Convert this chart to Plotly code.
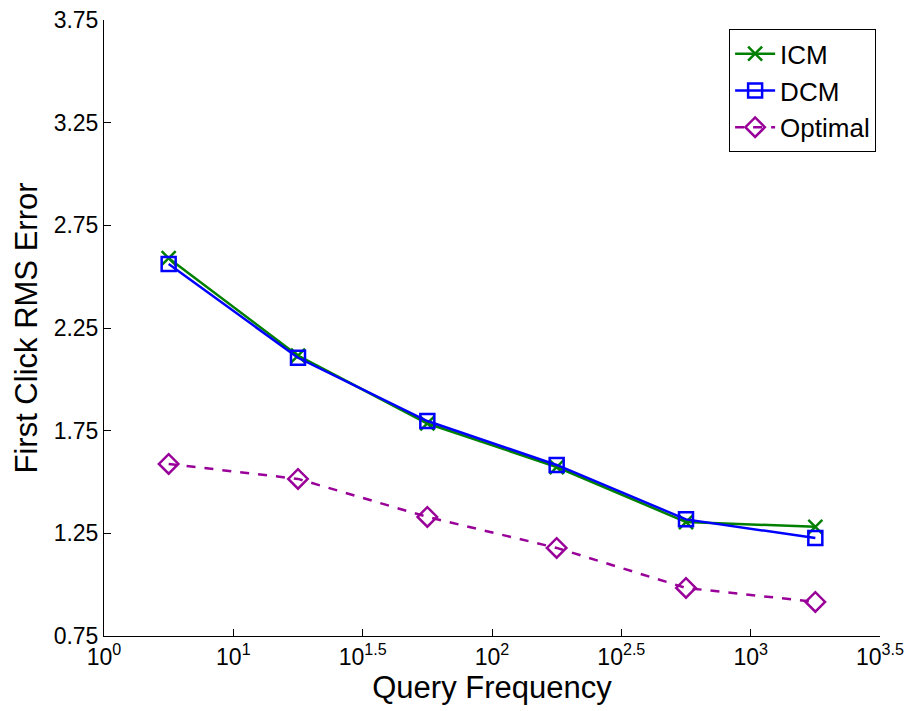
import plotly.graph_objects as go

query_freq = [10**0.75, 10**1.25, 10**1.75, 10**2.25, 10**2.75, 10**3.25]
icm = [2.59, 2.115, 1.785, 1.573, 1.305, 1.282]
dcm = [2.562, 2.105, 1.797, 1.583, 1.318, 1.227]
optimal = [1.588, 1.515, 1.33, 1.179, 0.984, 0.916]

x_tickvals = [10**0.5, 10**1, 10**1.5, 10**2, 10**2.5, 10**3, 10**3.5]
x_ticktext = ["10<sup>0</sup>", "10<sup>1</sup>", "10<sup>1.5</sup>", "10<sup>2</sup>",
              "10<sup>2.5</sup>", "10<sup>3</sup>", "10<sup>3.5</sup>"]
y_tickvals = [0.75, 1.25, 1.75, 2.25, 2.75, 3.25, 3.75]

fig = go.Figure()
fig.add_trace(go.Scatter(x=query_freq, y=icm, name="ICM", mode="lines+markers",
                         line=dict(color="#008000", width=2.5),
                         marker=dict(symbol="x-thin", size=14, line=dict(color="#008000", width=2.5))))
fig.add_trace(go.Scatter(x=query_freq, y=dcm, name="DCM", mode="lines+markers",
                         line=dict(color="#0000ff", width=2.5),
                         marker=dict(symbol="square-open", size=14, color="#0000ff", line=dict(width=2.5))))
fig.add_trace(go.Scatter(x=query_freq, y=optimal, name="Optimal", mode="lines+markers",
                         line=dict(color="#990099", width=2.5, dash="dash"),
                         marker=dict(symbol="diamond-open", size=15, color="#990099", line=dict(width=2.5))))

fig.update_layout(
    width=913, height=711,
    margin=dict(l=96, r=41, t=12, b=83),
    paper_bgcolor="white", plot_bgcolor="white",
    font=dict(family="Liberation Sans, Arial, sans-serif", color="black"),
    legend=dict(x=0.995, y=0.985, xanchor="right", yanchor="top",
                bordercolor="black", borderwidth=1, bgcolor="white",
                font=dict(size=26), tracegroupgap=0, itemwidth=40),
    xaxis=dict(type="log", range=[0.5, 3.5], tickvals=x_tickvals, ticktext=x_ticktext,
               showgrid=False, zeroline=False, showline=True, linecolor="black", linewidth=1,
               ticks="inside", ticklen=7, tickcolor="black", tickfont=dict(size=23),
               automargin=False, ticklabeloverflow="allow",
               title=dict(text="Query Frequency", font=dict(size=31), standoff=2)),
    yaxis=dict(range=[0.75, 3.75], tickvals=y_tickvals, ticktext=[f"{v:.2f}" for v in y_tickvals],
               showgrid=False, zeroline=False, showline=True, linecolor="black", linewidth=1,
               ticks="inside", ticklen=7, tickcolor="black", tickfont=dict(size=23),
               automargin=False, ticklabeloverflow="allow",
               title=dict(text="First Click RMS Error", font=dict(size=31), standoff=6)),
)

fig.write_html("out.html")
